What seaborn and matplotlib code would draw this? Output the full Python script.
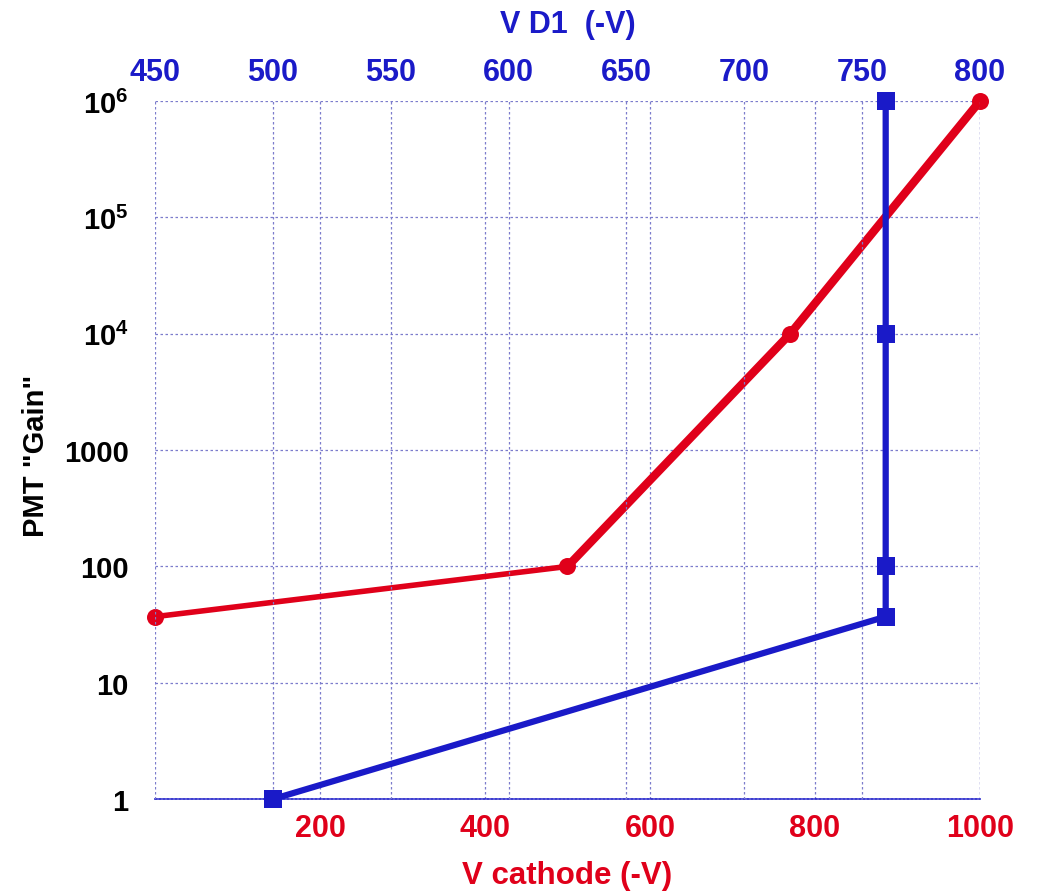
import matplotlib
matplotlib.use("Agg")
import matplotlib.pyplot as plt
import matplotlib.ticker as mticker
import seaborn as sns
import pandas as pd

# Red series: gain versus cathode voltage (bottom axis)
cathode_v = [0, 500, 770, 1000]
cathode_gain = [37, 100, 1e4, 1e6]

# Blue series: gain versus first-dynode voltage (top axis)
d1_v = [500, 760, 760, 760, 760]
d1_gain = [1, 37, 100, 1e4, 1e6]

bottom_ticks = [200, 400, 600, 800, 1000]
top_ticks = [450, 500, 550, 600, 650, 700, 750, 800]
gain_ticks = [1, 10, 100, 1000, 1e4, 1e5, 1e6]
gain_labels = ["1", "10", "100", "1000", r"$\mathbf{10^{4}}$", r"$\mathbf{10^{5}}$", r"$\mathbf{10^{6}}$"]

RED = "#E0001A"
BLUE = "#1A1AC8"
GRID = "#7C7CCC"

sns.set_style("white")
plt.rcParams["font.family"] = ["Liberation Sans", "DejaVu Sans"]
plt.rcParams["font.weight"] = "bold"
plt.rcParams["mathtext.fontset"] = "custom"
plt.rcParams["mathtext.rm"] = "Liberation Sans:bold"
plt.rcParams["mathtext.bf"] = "Liberation Sans:bold"

fig, ax = plt.subplots(figsize=(10.37, 8.95), dpi=100)
fig.subplots_adjust(left=0.1495, right=0.945, top=0.886, bottom=0.106)
ax2 = ax.twiny()

red_df = pd.DataFrame({"v": cathode_v, "gain": cathode_gain})
blue_df = pd.DataFrame({"v": d1_v, "gain": d1_gain})

# thinner lower segment, thicker steep segment of the cathode curve
sns.lineplot(data=red_df.iloc[:2], x="v", y="gain", ax=ax, color=RED, lw=4,
             sort=False, estimator=None, clip_on=False, zorder=3)
sns.lineplot(data=red_df.iloc[1:], x="v", y="gain", ax=ax, color=RED, lw=6,
             sort=False, estimator=None, clip_on=False, zorder=3)
sns.scatterplot(data=red_df, x="v", y="gain", ax=ax, color=RED, s=150,
                marker="o", edgecolor=RED, linewidth=0, clip_on=False, zorder=4)

sns.lineplot(data=blue_df, x="v", y="gain", ax=ax2, color=BLUE, lw=4.5,
             sort=False, estimator=None, clip_on=False, zorder=3)
sns.scatterplot(data=blue_df, x="v", y="gain", ax=ax2, color=BLUE, s=170,
                marker="s", edgecolor=BLUE, linewidth=0, clip_on=False, zorder=4)

for a in (ax, ax2):
    a.set_yscale("log")
    a.set_ylim(1, 1e6)
    for s in a.spines.values():
        s.set_visible(False)

# dense dotted base line along gain = 1
ax.spines["bottom"].set_visible(True)
ax.spines["bottom"].set_color(BLUE)
ax.spines["bottom"].set_linestyle((0, (1.2, 1.2)))
ax.spines["bottom"].set_linewidth(1.2)

ax.set_xlim(0, 1000)
ax2.set_xlim(450, 800)

ax.set_xticks(bottom_ticks)
ax2.set_xticks(top_ticks)
ax.yaxis.set_major_locator(mticker.FixedLocator(gain_ticks))
ax.yaxis.set_minor_locator(mticker.NullLocator())
ax.set_yticklabels(gain_labels)

ax.tick_params(axis="x", length=0, pad=10, labelsize=22, labelcolor=RED)
ax2.tick_params(axis="x", length=0, pad=10, labelsize=22, labelcolor=BLUE)
ax.tick_params(axis="y", which="major", direction="in", length=8, width=1,
               color=GRID, pad=19, labelsize=21, labelcolor="black")
for lab in ax.get_xticklabels() + ax2.get_xticklabels() + ax.get_yticklabels():
    lab.set_fontweight("bold")

grid_kw = dict(color=GRID, linestyle=(0, (2, 2)), linewidth=0.9)
ax.grid(True, axis="both", **grid_kw)
ax2.grid(True, axis="x", **grid_kw)
ax2.grid(False, axis="y")

ax.set_xlabel("V cathode (-V)", color=RED, fontsize=22.5, fontweight="bold", labelpad=12)
ax2.set_xlabel("V D1  (-V)", color=BLUE, fontsize=22, fontweight="bold", labelpad=18)
ax.set_ylabel('PMT "Gain"', color="black", fontsize=21, fontweight="bold")
ax.yaxis.set_label_coords(-0.127, 0.493)
ax2.set_ylabel("")

fig.savefig("out.png", dpi=100)
